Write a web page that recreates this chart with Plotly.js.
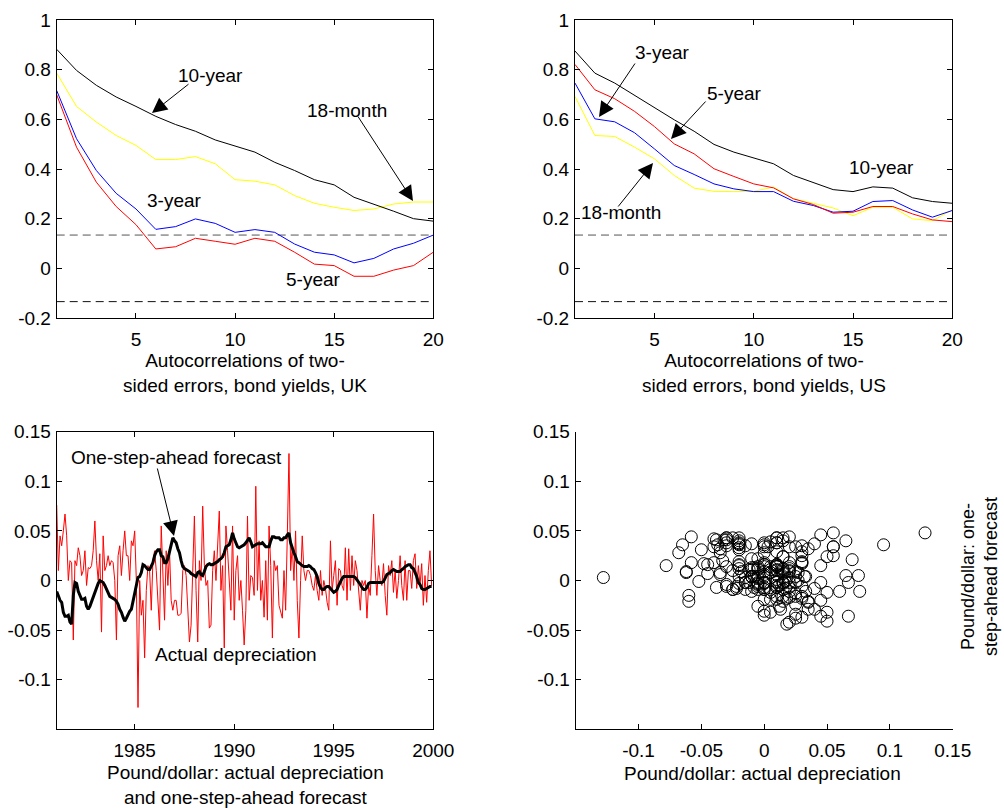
<!DOCTYPE html>
<html><head><meta charset="utf-8">
<script src="https://cdn.plot.ly/plotly-3.0.1.min.js"></script>
<style>html,body{margin:0;padding:0;background:#fff}#chart{width:1004px;height:808px}</style>
</head><body><div id="chart"></div>
<script>
// ---- Data ----
const lags = [1,2,3,4,5,6,7,8,9,10,11,12,13,14,15,16,17,18,19,20];
const uk10y  = [0.882,0.797,0.737,0.690,0.652,0.612,0.579,0.552,0.517,0.492,0.468,0.427,0.394,0.357,0.336,0.286,0.259,0.230,0.200,0.190];
const uk18m  = [0.786,0.652,0.589,0.535,0.495,0.438,0.438,0.450,0.421,0.357,0.351,0.336,0.293,0.262,0.246,0.233,0.239,0.259,0.267,0.267];
const uk3y   = [0.716,0.522,0.394,0.302,0.239,0.157,0.168,0.199,0.181,0.145,0.156,0.145,0.098,0.065,0.054,0.022,0.040,0.078,0.101,0.134];
const uk5y   = [0.699,0.488,0.347,0.249,0.176,0.078,0.087,0.121,0.109,0.097,0.121,0.109,0.065,0.017,0.011,-0.032,-0.032,-0.007,0.011,0.065];
const us10y  = [0.875,0.786,0.746,0.696,0.647,0.598,0.552,0.499,0.468,0.445,0.421,0.374,0.347,0.317,0.309,0.328,0.323,0.284,0.269,0.262];
const us5y   = [0.821,0.719,0.683,0.632,0.571,0.501,0.461,0.401,0.370,0.340,0.324,0.280,0.257,0.222,0.226,0.249,0.249,0.219,0.195,0.188];
const us3y   = [0.746,0.602,0.590,0.546,0.481,0.414,0.378,0.340,0.320,0.309,0.309,0.270,0.253,0.226,0.230,0.269,0.273,0.235,0.206,0.233];
const us18m  = [0.692,0.535,0.531,0.488,0.441,0.374,0.323,0.310,0.309,0.310,0.327,0.280,0.262,0.243,0.212,0.246,0.246,0.199,0.192,0.235];
const bandLags = [1,20];
const bandUpper = [0.134,0.134];
const bandLower = [-0.134,-0.134];

const startYear = 1981;
const actualDep = [
0.076,0.010,0.045,0.035,0.050,0.067,0.045,0.000,0.020,0.018,
-0.060,0.020,0.015,0.033,0.025,0.005,0.010,0.030,-0.005,0.013,
0.012,0.015,0.030,0.060,0.020,0.000,0.027,-0.052,0.045,0.010,
0.015,0.025,0.015,0.020,0.018,0.000,-0.060,0.025,0.035,0.005,
0.030,0.050,0.025,0.025,0.000,0.040,0.035,0.050,0.000,-0.128,
0.000,-0.035,-0.020,-0.078,-0.010,0.015,0.010,-0.030,0.020,0.030,
0.010,-0.020,-0.050,0.055,0.015,-0.040,0.030,-0.005,0.030,-0.020,
-0.030,-0.020,-0.020,-0.035,-0.035,-0.033,0.010,0.015,0.005,-0.025,
-0.062,-0.045,0.010,0.065,-0.010,-0.062,0.020,0.000,0.075,0.015,
-0.005,0.000,-0.048,-0.045,0.010,0.030,0.000,0.030,0.070,-0.010,
0.015,-0.068,0.055,0.030,0.000,-0.030,0.055,-0.040,0.010,0.025,
-0.020,0.000,-0.030,-0.065,-0.030,0.065,-0.020,0.005,0.003,-0.015,
0.095,-0.010,0.040,-0.020,0.000,-0.037,0.020,-0.040,0.055,0.015,
-0.058,0.020,0.010,0.015,-0.025,-0.032,-0.038,0.010,-0.030,0.045,
0.128,0.010,0.035,0.000,0.050,-0.020,-0.058,0.000,0.045,0.010,
0.000,0.010,0.010,0.005,-0.005,-0.010,0.005,-0.010,-0.020,0.010,
-0.015,0.000,-0.008,-0.022,-0.030,0.040,-0.010,0.005,0.020,-0.025,
0.012,0.010,-0.005,-0.010,0.033,-0.020,0.032,-0.010,0.025,-0.005,
0.020,0.010,-0.012,-0.030,0.000,-0.005,0.000,-0.038,-0.005,-0.015,
0.025,0.067,0.010,-0.015,0.015,0.000,-0.005,0.017,-0.015,-0.035,
0.015,0.005,0.020,-0.012,0.010,-0.018,0.000,0.025,-0.005,-0.020,
0.020,-0.020,0.010,0.010,-0.008,0.020,0.027,-0.008,0.015,-0.005,
0.017,-0.025,0.005,-0.022,0.010,0.030,-0.005
];
const forecast = [
-0.011,-0.016,-0.020,-0.022,-0.032,-0.036,-0.036,-0.035,-0.042,-0.044,
-0.015,-0.002,-0.003,-0.011,-0.016,-0.019,-0.019,-0.018,-0.026,-0.029,
-0.026,-0.021,-0.016,-0.011,-0.007,-0.003,0.000,-0.001,-0.002,-0.005,
-0.009,-0.013,-0.016,-0.017,-0.018,-0.019,-0.021,-0.024,-0.029,-0.032,
-0.037,-0.041,-0.038,-0.034,-0.031,-0.029,-0.021,-0.012,-0.002,0.003,
0.004,0.008,0.016,0.015,0.013,0.011,0.011,0.014,0.018,0.025,
0.029,0.031,0.031,0.025,0.024,0.018,0.018,0.022,0.029,0.036,
0.043,0.040,0.038,0.032,0.028,0.020,0.014,0.012,0.011,0.010,
0.009,0.007,0.006,0.005,0.004,0.008,0.009,0.006,0.005,0.009,
0.014,0.016,0.017,0.016,0.016,0.017,0.018,0.019,0.021,0.022,
0.024,0.028,0.034,0.035,0.036,0.041,0.048,0.042,0.038,0.034,
0.033,0.034,0.035,0.036,0.038,0.040,0.043,0.039,0.034,0.035,
0.036,0.037,0.037,0.037,0.038,0.036,0.034,0.034,0.034,0.040,
0.044,0.044,0.043,0.043,0.043,0.041,0.041,0.043,0.043,0.046,
0.048,0.038,0.032,0.028,0.024,0.019,0.018,0.016,0.015,0.014,
0.014,0.014,0.015,0.014,0.012,0.011,0.008,0.004,-0.003,-0.007,
-0.009,-0.009,-0.007,-0.006,-0.006,-0.008,-0.011,-0.012,-0.011,-0.009,
-0.005,-0.001,0.002,0.004,0.004,0.004,0.004,0.004,0.004,0.004,
0.003,0.001,-0.002,-0.004,-0.007,-0.009,-0.009,-0.007,-0.003,-0.002,
-0.002,-0.002,-0.002,-0.002,-0.002,-0.002,-0.002,-0.001,0.003,0.006,
0.007,0.008,0.010,0.011,0.010,0.009,0.009,0.009,0.011,0.012,
0.014,0.015,0.016,0.016,0.013,0.012,0.008,0.004,-0.002,-0.004,
-0.008,-0.009,-0.009,-0.008,-0.007,-0.006,-0.006
];
const dates = actualDep.map((_, i) => startYear + (i + 1) / 12);

const lagTicks = [5,10,15,20];
const lagTickText = ['5','10','15','20'];
const acfTicks = [1,0.8,0.6,0.4,0.2,0,-0.2];
const acfTickText = ['1','0.8','0.6','0.4','0.2','0','-0.2'];
const yearTicks = [1985,1990,1995,2000];
const yearTickText = ['1985','1990','1995','2000'];
const depTicks = [0.15,0.1,0.05,0,-0.05,-0.1];
const depTickText = ['0.15','0.1','0.05','0','-0.05','-0.1'];
const scatXTicks = [-0.1,-0.05,0,0.05,0.1,0.15];
const scatXTickText = ['-0.1','-0.05','0','0.05','0.1','0.15'];

// ---- Layout helpers ----
const W = 1004, H = 808;
const px = x => x / W;
const py = y => 1 - y / H;
const FONT = 'Arial, "Liberation Sans", sans-serif';
const FS = 19;

function ax(domain, range, tickvals, ticktext, mirror, isX) {
  return {
    domain: domain, range: range, tickmode: 'array', tickvals: tickvals, ticktext: ticktext,
    showline: true, linecolor: '#000', linewidth: 1, mirror: mirror,
    ticks: 'inside', ticklen: 5, tickwidth: 1, tickcolor: '#000',
    ticklabelstandoff: isX ? 4 : 1,
    showgrid: false, zeroline: false, fixedrange: true,
    tickfont: {family: FONT, size: FS, color: '#000'}
  };
}

const traces = [
  // UK
  {x: bandLags, y: bandUpper, xaxis: 'x', yaxis: 'y', mode: 'lines', line: {color: '#555', width: 1, dash: '8px,5px'}},
  {x: bandLags, y: bandLower, xaxis: 'x', yaxis: 'y', mode: 'lines', line: {color: '#111', width: 1, dash: '8px,5px'}},
  {x: lags, y: uk18m, xaxis: 'x', yaxis: 'y', mode: 'lines', line: {color: '#ffff00', width: 1}},
  {x: lags, y: uk3y, xaxis: 'x', yaxis: 'y', mode: 'lines', line: {color: '#0000ff', width: 1}},
  {x: lags, y: uk5y, xaxis: 'x', yaxis: 'y', mode: 'lines', line: {color: '#ff0000', width: 1}},
  {x: lags, y: uk10y, xaxis: 'x', yaxis: 'y', mode: 'lines', line: {color: '#000', width: 1}},
  // US
  {x: bandLags, y: bandUpper, xaxis: 'x2', yaxis: 'y2', mode: 'lines', line: {color: '#555', width: 1, dash: '8px,5px'}},
  {x: bandLags, y: bandLower, xaxis: 'x2', yaxis: 'y2', mode: 'lines', line: {color: '#111', width: 1, dash: '8px,5px'}},
  {x: lags, y: us18m, xaxis: 'x2', yaxis: 'y2', mode: 'lines', line: {color: '#ffff00', width: 1}},
  {x: lags, y: us3y, xaxis: 'x2', yaxis: 'y2', mode: 'lines', line: {color: '#0000ff', width: 1}},
  {x: lags, y: us5y, xaxis: 'x2', yaxis: 'y2', mode: 'lines', line: {color: '#ff0000', width: 1}},
  {x: lags, y: us10y, xaxis: 'x2', yaxis: 'y2', mode: 'lines', line: {color: '#000', width: 1}},
  // time series
  {x: dates, y: actualDep, xaxis: 'x3', yaxis: 'y3', mode: 'lines', line: {color: '#ff0000', width: 1}},
  {x: dates, y: forecast, xaxis: 'x3', yaxis: 'y3', mode: 'lines', line: {color: '#000', width: 3}},
  // scatter
  {x: actualDep, y: forecast, xaxis: 'x4', yaxis: 'y4', mode: 'markers',
   marker: {symbol: 'circle-open', size: 12, color: '#000', line: {width: 1, color: '#000'}}}
];

const topY = [py(318), py(20)];
const botY = [py(729.3), py(431.7)];

function txt(text, x, y, extra) {
  return Object.assign({xref: 'paper', yref: 'paper', x: px(x), y: py(y), text: text, showarrow: false,
    xanchor: 'center', yanchor: 'middle', font: {family: FONT, size: FS, color: '#000'}}, extra || {});
}
function arrow(hx, hy, tx, ty) {
  return {xref: 'paper', yref: 'paper', x: px(hx), y: py(hy), ax: tx - hx, ay: ty - hy, text: '',
    showarrow: true, arrowhead: 2, arrowsize: 3, arrowwidth: 1, arrowcolor: '#000', standoff: 0, startstandoff: 0};
}

const layout = {
  width: W, height: H, margin: {l: 0, r: 0, t: 0, b: 0},
  paper_bgcolor: '#fff', plot_bgcolor: '#fff', showlegend: false,
  font: {family: FONT, size: FS, color: '#000'},
  xaxis:  ax([px(56.7), px(433.3)], [1, 20], lagTicks, lagTickText, 'ticks', true),
  yaxis:  Object.assign(ax(topY, [-0.2, 1], acfTicks, acfTickText, 'ticks'), {anchor: 'x'}),
  xaxis2: Object.assign(ax([px(575), px(952.3)], [1, 20], lagTicks, lagTickText, 'ticks', true), {anchor: 'y2'}),
  yaxis2: Object.assign(ax(topY, [-0.2, 1], acfTicks, acfTickText, 'ticks'), {anchor: 'x2'}),
  xaxis3: Object.assign(ax([px(56.7), px(433.3)], [1981.083, 2000], yearTicks, yearTickText, 'ticks', true), {anchor: 'y3'}),
  yaxis3: Object.assign(ax(botY, [-0.15, 0.15], depTicks, depTickText, 'ticks'), {anchor: 'x3'}),
  xaxis4: Object.assign(ax([px(575.7), px(952.7)], [-0.15, 0.15], scatXTicks, scatXTickText, false, true), {anchor: 'y4'}),
  yaxis4: Object.assign(ax(botY, [-0.15, 0.15], depTicks, depTickText, false), {anchor: 'x4'}),
  annotations: [
    // UK labels
    txt('10-year', 210, 76), txt('18-month', 347, 110), txt('3-year', 174, 200), txt('5-year', 313, 279),
    arrow(152, 113, 190, 83), arrow(413, 201, 357, 115),
    // US labels
    txt('3-year', 662, 53), txt('5-year', 734, 93), txt('10-year', 881, 168), txt('18-month', 621, 212),
    arrow(599, 117, 636, 62), arrow(671, 139, 707, 100), arrow(653, 163, 617, 208),
    // time-series labels
    txt('One-step-ahead forecast', 176, 458), txt('Actual depreciation', 236, 654),
    arrow(174, 536, 157, 467),
    // axis titles
    txt('Autocorrelations of two-<br>sided errors, bond yields, UK', 245, 373),
    txt('Autocorrelations of two-<br>sided errors, bond yields, US', 763.7, 373),
    txt('Pound/dollar: actual depreciation<br>and one-step-ahead forecast', 245, 785),
    txt('Pound/dollar: actual depreciation', 762, 773),
    txt('Pound/dollar: one-<br>step-ahead forecast', 979, 577, {textangle: -90, font: {family: FONT, size: 18, color: '#000'}})
  ]
};

Plotly.newPlot('chart', traces, layout, {staticPlot: true, displayModeBar: false});
</script>
</body></html>
